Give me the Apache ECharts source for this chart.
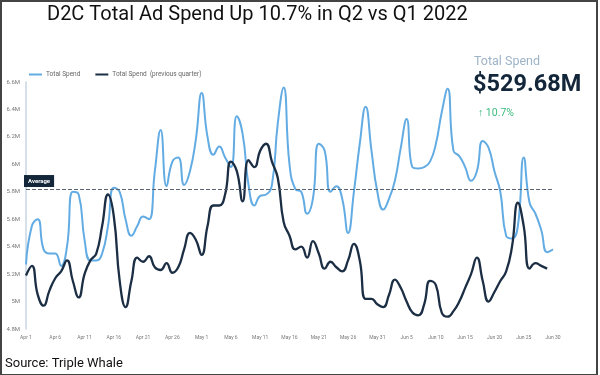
<!DOCTYPE html>
<html>
<head>
<meta charset="utf-8">
<script src="https://cdn.jsdelivr.net/npm/echarts@6/dist/echarts.min.js"></script>
<style>
  html, body { margin: 0; padding: 0; background: #fff; }
  #frame { width: 598px; height: 375px; box-sizing: border-box; border: 2px solid #444; border-bottom-width: 1px; position: relative; }
  #chart { position: absolute; left: -2px; top: -2px; width: 600px; height: 375px; }
</style>
</head>
<body>
<div id="frame"><div id="chart"></div></div>
<script>
// daily values, millions USD
var days = [];
var monthNames = ["Apr", "May", "Jun"];
var monthLen = [30, 31, 30];
monthNames.forEach(function(m, i) {
  for (var d = 1; d <= monthLen[i]; d++) days.push(m + " " + d);
});

var totalSpend = [
  5.27, 5.55, 5.60, 5.38, 5.35, 5.35, 5.26, 5.40, 5.80, 5.78,
  5.45, 5.30, 5.30, 5.35, 5.55, 5.83, 5.80, 5.60, 5.48, 5.55,
  5.62, 5.60, 5.95, 6.25, 5.84, 6.02, 6.05, 5.85, 5.95, 6.18,
  6.52, 6.20, 6.07, 6.13, 6.05, 5.98, 6.35, 6.22, 5.85, 5.70,
  5.77, 5.78, 5.85, 6.30, 6.56, 6.00, 5.82, 5.80, 5.64, 5.75,
  6.15, 6.10, 5.80, 5.84, 5.75, 5.50, 5.80, 6.15, 6.42, 6.10,
  5.80, 5.67, 5.75, 5.88, 6.12, 6.33, 5.98, 5.97, 5.98, 6.02,
  6.15, 6.38, 6.55, 6.10, 6.06, 5.98, 5.88, 5.95, 6.17, 6.12,
  5.95, 5.80, 5.48, 5.46, 5.55, 6.05, 5.72, 5.64, 5.52, 5.36,
  5.38
];

var prevQuarter = [
  5.19, 5.26, 5.05, 4.97, 5.08, 5.17, 5.22, 5.30, 5.15, 5.03,
  5.20, 5.30, 5.35, 5.55, 5.78, 5.62, 5.15, 4.96, 5.15, 5.32,
  5.29, 5.33, 5.25, 5.23, 5.28, 5.21, 5.25, 5.38, 5.50, 5.45,
  5.34, 5.55, 5.70, 5.70, 5.78, 6.02, 5.95, 5.73, 6.03, 5.98,
  6.10, 6.15, 6.02, 5.90, 5.58, 5.48, 5.38, 5.40, 5.32, 5.44,
  5.35, 5.24, 5.29, 5.25, 5.22, 5.30, 5.42, 5.30, 5.02, 5.02,
  4.98, 4.96, 5.05, 5.16, 5.10, 5.00, 4.92, 4.90, 4.98, 5.15,
  5.12, 4.92, 4.89, 4.93, 5.00, 5.10, 5.20, 5.32, 5.15, 5.00,
  5.07, 5.15, 5.22, 5.40, 5.72, 5.55, 5.24, 5.28, 5.26, 5.24
];

var averageValue = 5.82;

var chart = echarts.init(document.getElementById("chart"));

var option = {
  backgroundColor: "transparent",
  animation: false,
  textStyle: { fontFamily: "Roboto" },
  graphic: [
    {
      type: "text", left: 47, top: 5,
      style: { text: "D2C Total Ad Spend Up 10.7% in Q2 vs Q1 2022", fontSize: 20, fill: "#111", fontFamily: "Roboto" }
    },
    {
      type: "text", left: 5, top: 357,
      style: { text: "Source: Triple Whale", fontSize: 13, fill: "#111", fontFamily: "Roboto" }
    },
    {
      type: "text", left: 474, top: 55,
      style: { text: "Total Spend", fontSize: 12.5, fill: "#9db3c6", fontFamily: "Roboto" }
    },
    {
      type: "text", left: 473, top: 73,
      style: { text: "$529.68M", fontSize: 23.5, fontWeight: "bold", fill: "#13263a", fontFamily: "Roboto" }
    },
    {
      type: "text", left: 478, top: 108,
      style: { text: "\u2191 10.7%", fontSize: 10.5, fill: "#3dbb7e", fontFamily: "Roboto" }
    }
  ],
  legend: {
    left: 24, top: 66,
    itemWidth: 13, itemHeight: 2, itemGap: 15,
    icon: "rect",
    textStyle: { fontSize: 6.5, color: "#666", padding: [0, 0, 0, -1] },
    data: ["Total Spend", "Total Spend  (previous quarter)"]
  },
  grid: { left: 26, right: 47, top: 82, bottom: 46 },
  xAxis: {
    type: "category",
    data: days,
    boundaryGap: false,
    axisLine: { show: false },
    axisTick: { show: false },
    axisLabel: { interval: 4, fontSize: 5, color: "#777", margin: 6 }
  },
  yAxis: {
    type: "value",
    min: 4.8, max: 6.6, interval: 0.2,
    axisLine: { show: true, lineStyle: { color: "#c9d6e3", width: 1.5 } },
    axisTick: { show: false },
    splitLine: { show: false },
    axisLabel: {
      fontSize: 6, color: "#777", margin: 6,
      formatter: function(v) { return (Math.round(v * 10) / 10) + "M"; }
    }
  },
  series: [
    {
      name: "Total Spend",
      type: "line",
      data: totalSpend,
      smooth: 0.5,
      symbol: "none",
      color: "#63ace3",
      lineStyle: { width: 2, color: "#63ace3" },
      markLine: {
        silent: true,
        symbol: "none",
        lineStyle: { type: [4, 2], color: "#5a6470", width: 1 },
        label: {
          position: "insideStartTop",
          formatter: "Average",
          color: "#fff",
          fontSize: 6,
          fontWeight: "bold",
          backgroundColor: "#13263a",
          padding: [3, 4],
          distance: [-2, 2]
        },
        data: [{ yAxis: averageValue }]
      }
    },
    {
      name: "Total Spend  (previous quarter)",
      type: "line",
      data: prevQuarter,
      smooth: 0.5,
      symbol: "none",
      color: "#1b2e44",
      lineStyle: { width: 2.3, color: "#1b2e44" }
    }
  ]
};

chart.setOption(option);
</script>
</body>
</html>
